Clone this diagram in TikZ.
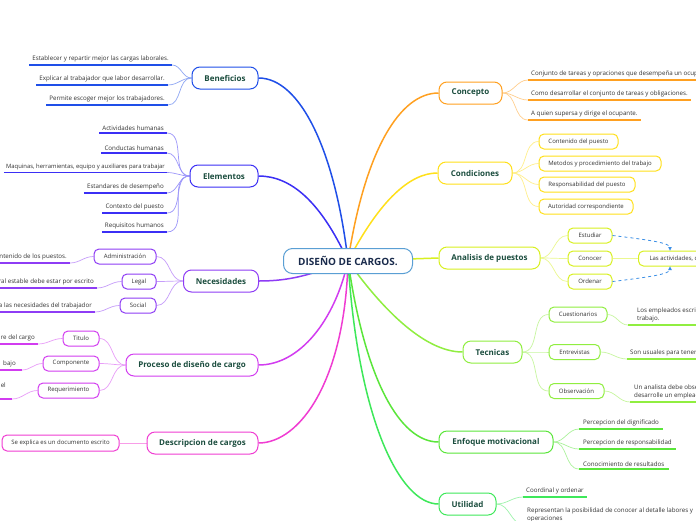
\documentclass[tikz,border=0pt]{standalone}
\usepackage{fontspec}
\setmainfont{Open Sans}
\usetikzlibrary{backgrounds,arrows.meta}
\definecolor{cRoot}{HTML}{5A9FD4}
\definecolor{cRootT}{HTML}{1A2B4C}
\definecolor{cTopT}{HTML}{1B4D3E}
\definecolor{cTxt}{HTML}{333333}
\definecolor{cBen}{HTML}{1F4FE8}
\definecolor{cEle}{HTML}{3B2FF5}
\definecolor{cNec}{HTML}{8E3CF5}
\definecolor{cPro}{HTML}{D23CF0}
\definecolor{cDes}{HTML}{F03CD2}
\definecolor{cCon}{HTML}{FFA020}
\definecolor{cCnd}{HTML}{FFE01A}
\definecolor{cAna}{HTML}{D8F020}
\definecolor{cTec}{HTML}{90EE40}
\definecolor{cEnf}{HTML}{5AE63A}
\definecolor{cUti}{HTML}{3EE85A}
\definecolor{cDash}{HTML}{3A8EE6}
\begin{document}
\begin{tikzpicture}[x=1pt,y=-1pt,
  rootbox/.style={draw=cRoot, line width=1pt, fill=white, rounded corners=9pt, minimum width=129pt, minimum height=25pt, font=\fontsize{10}{12}\selectfont\bfseries, text=cRootT, inner sep=0pt},
  topic/.style={draw=#1, line width=1pt, fill=white, rounded corners=8pt, minimum height=22pt, font=\fontsize{8}{9.5}\selectfont\bfseries, text=cTopT, inner sep=0pt},
  subbox/.style={draw=#1, line width=1pt, fill=white, rounded corners=5pt, minimum height=15pt, font=\fontsize{6}{7.5}\selectfont, text=cTxt, inner sep=0pt},
  leaf/.style={font=\fontsize{6.2}{8}\selectfont, text=cTxt, inner xsep=3pt, inner ysep=2.5pt},
  uline/.style={draw=#1, line width=1.3pt},
  conn/.style={draw=#1!50!white, line width=0.7pt},
  mainconn/.style={draw=#1, line width=1.5pt},
  dasharrow/.style={draw=cDash, line width=0.8pt, dashed, -{Latex[length=4pt,width=4pt]}}
]
\useasboundingbox (0,0) rectangle (696,520);

% root
\node[rootbox] (root) at (348,261) {DISEÑO DE CARGOS.};

% left topics
\node[topic=cBen, minimum width=66pt] (ben) at (225,78) {Beneficios};
\node[topic=cEle, minimum width=68pt] (ele) at (224,176) {Elementos};
\node[topic=cNec, minimum width=75pt] (nec) at (221,281) {Necesidades};
\node[topic=cPro, minimum width=132pt] (pro) at (192,365) {Proceso de diseño de cargo};
\node[topic=cDes, minimum width=111pt] (des) at (202.5,443) {Descripcion de cargos};

% right topics
\node[topic=cCon, minimum width=63pt] (con) at (470.5,93) {Concepto};
\node[topic=cCnd, minimum width=74pt] (cnd) at (475,173) {Condiciones};
\node[topic=cAna, minimum width=101pt] (ana) at (489.5,258) {Analisis de puestos};
\node[topic=cTec, minimum width=59pt] (tec) at (492.5,352) {Tecnicas};
\node[topic=cEnf, minimum width=114pt] (enf) at (496,442) {Enfoque motivacional};
\node[topic=cUti, minimum width=57pt] (uti) at (467.5,504) {Utilidad};

% Beneficios leaves
\node[leaf, anchor=south east] (b1) at (172,65) {Establecer y repartir mejor las cargas laborales.};
\node[leaf, anchor=south east] (b2) at (168,85) {Explicar al trabajador que labor desarrollar.};
\node[leaf, anchor=south east] (b3) at (168,105) {Permite escoger mejor los trabajadores.};

% Elementos leaves
\node[leaf, anchor=south east] (e1) at (167,133) {Actividades humanas};
\node[leaf, anchor=south east] (e2) at (167,153) {Conductas humanas};
\node[leaf, anchor=south east, font=\fontsize{5.9}{8}\selectfont, inner xsep=2pt] (e3) at (167,172.5) {Maquinas, herramientas, equipo y auxiliares para trabajar};
\node[leaf, anchor=south east] (e4) at (167,193) {Estandares de desempeño};
\node[leaf, anchor=south east] (e5) at (167,213) {Contexto del puesto};
\node[leaf, anchor=south east] (e6) at (167,232) {Requisitos humanos};

% Necesidades
\node[subbox=cNec, minimum width=62pt] (n1) at (125,256.5) {Administración};
\node[subbox=cNec, minimum width=34pt] (n2) at (139,281.5) {Legal};
\node[subbox=cNec, minimum width=36pt] (n3) at (138,305.5) {Social};
\node[leaf, anchor=south east] (n1l) at (70,263) {ontenido de los puestos.};
\node[leaf, anchor=south east] (n2l) at (97,288) {ral estable debe estar por escrito};
\node[leaf, anchor=south east] (n3l) at (95,312) {a las necesidades del trabajador};

% Proceso
\node[subbox=cPro, minimum width=36pt] (p1) at (81,338.5) {Titulo};
\node[subbox=cPro, minimum width=56pt] (p2) at (71,363.5) {Componente};
\node[subbox=cPro, minimum width=61pt] (p3) at (68.5,390.5) {Requerimiento};
\node[leaf, anchor=south east] (p1l) at (38,344) {re del cargo};
\node[leaf, anchor=south east, inner xsep=6pt] (p2l) at (22,370) {bajo};
\node[leaf, anchor=south east, inner xsep=6pt, text depth=9pt] (p3l) at (12,399) {el};

% Descripcion
\node[subbox=cDes, minimum width=117pt, minimum height=16pt] (d1) at (60.5,443) {Se explica es un documento escrito};

% Concepto leaves
\node[leaf, anchor=south west] (k1) at (528,80) {Conjunto de tareas y opraciones que desempeña un ocupa};
\node[leaf, anchor=south west] (k2) at (528,100) {Como desarrollar el conjunto de tareas y obligaciones.};
\node[leaf, anchor=south west] (k3) at (528,120) {A quien supersa y dirige el ocupante.};

% Condiciones
\node[subbox=cCnd, minimum width=79pt] (c1) at (578.5,141.5) {Contenido del puesto};
\node[subbox=cCnd, minimum width=122pt] (c2) at (600,163.5) {Metodos y procedimiento del trabajo};
\node[subbox=cCnd, minimum width=96pt] (c3) at (587,184.5) {Responsabilidad del puesto};
\node[subbox=cCnd, minimum width=94pt] (c4) at (586,206.5) {Autoridad correspondiente};

% Analisis
\node[subbox=cAna, minimum width=44pt] (a1) at (590,235.5) {Estudiar};
\node[subbox=cAna, minimum width=44pt] (a2) at (590,258.5) {Conocer};
\node[subbox=cAna, minimum width=44pt] (a3) at (590,281.5) {Ordenar};
\node[subbox=cAna, anchor=west, inner xsep=11pt] (a4) at (638,258.5) {Las actividades, d};
\coordinate (a4t) at (670,251);
\coordinate (a4b) at (670,266);

% Tecnicas
\node[subbox=cTec, minimum width=58pt] (t1) at (578,314.5) {Cuestionarios};
\node[subbox=cTec, minimum width=51pt] (t2) at (574.5,352) {Entrevistas};
\node[subbox=cTec, minimum width=55pt] (t3) at (576.5,391) {Observación};
\node[leaf, anchor=south west, align=left, inner xsep=9pt] (t1l) at (628,325) {Los empleados escrib\\trabajo.};
\node[leaf, anchor=south west] (t2l) at (627,359) {Son usuales para tener};
\node[leaf, anchor=south west, align=left, inner xsep=4pt] (t3l) at (630,402) {Un analista debe obse\\desarrolle un emplead};

% Enfoque
\node[leaf, anchor=south west, inner xsep=4pt] (f1) at (579,429) {Percepcion del dignificado};
\node[leaf, anchor=south west, inner xsep=4pt] (f2) at (579,449) {Percepcion de responsabilidad};
\node[leaf, anchor=south west, inner xsep=4pt] (f3) at (579,469) {Conocimiento de resultados};

% Utilidad
\node[leaf, anchor=south west] (u1) at (523,497) {Coordinal y ordenar};
\node[leaf, anchor=north west, align=left] (u2) at (524,505) {Representan la posibilidad de conocer al detalle labores y\\operaciones};

% underlines
\foreach \n in {b1,b2,b3} \draw[uline=cBen] (\n.south west) -- (\n.south east);
\foreach \n in {e1,e2,e3,e4,e5,e6} \draw[uline=cEle] (\n.south west) -- (\n.south east);
\foreach \n in {n1l,n2l,n3l} \draw[uline=cNec] (\n.south west) -- (\n.south east);
\foreach \n in {p1l,p2l,p3l} \draw[uline=cPro] (\n.south west) -- (\n.south east);
\foreach \n in {k1,k2,k3} \draw[uline=cCon] (\n.south west) -- (\n.south east);
\foreach \n in {t1l,t2l,t3l} \draw[uline=cTec] (\n.south west) -- (\n.south east);
\foreach \n in {f1,f2,f3} \draw[uline=cEnf] (\n.south west) -- (\n.south east);
\foreach \n in {u1,u2} \draw[uline=cUti] (\n.south west) -- (\n.south east);

% dashed relations
\draw[dasharrow] (a1.east) .. controls (650,240) and (670,243) .. (a4t);
\draw[dasharrow] (a3.east) .. controls (650,277) and (670,274) .. (a4b);

\begin{pgfonlayer}{background}
\fill[white] (0,0) rectangle (696,520);
% main branches
\draw[mainconn=cBen] (root.center) .. controls (335,150) and (300,78) .. (ben.east);
\draw[mainconn=cEle] (root.center) .. controls (320,200) and (290,176) .. (ele.east);
\draw[mainconn=cNec] (root.center) .. controls (310,275) and (290,281) .. (nec.east);
\draw[mainconn=cPro] (root.center) .. controls (335,320) and (300,365) .. (pro.east);
\draw[mainconn=cDes] (root.center) .. controls (345,380) and (300,443) .. (des.east);
\draw[mainconn=cCon] (root.center) .. controls (365,150) and (400,93) .. (con.west);
\draw[mainconn=cCnd] (root.center) .. controls (380,200) and (410,173) .. (cnd.west);
\draw[mainconn=cAna] (root.center) -- (ana.west);
\draw[mainconn=cTec] (root.center) .. controls (390,320) and (430,352) .. (tec.west);
\draw[mainconn=cEnf] (root.center) .. controls (365,380) and (400,442) .. (enf.west);
\draw[mainconn=cUti] (root.center) .. controls (358,420) and (400,504) .. (uti.west);
% sub connectors left
\foreach \n in {b1,b2,b3} \draw[conn=cBen] (ben.west) to[out=180,in=0] (\n.south east);
\foreach \n in {e1,e2,e3,e4,e5,e6} \draw[conn=cEle] (ele.west) to[out=180,in=0] (\n.south east);
\foreach \n in {n1,n2,n3} \draw[conn=cNec] (nec.west) to[out=180,in=0] (\n.east);
\draw[conn=cNec] (n1.west) to[out=180,in=0] (n1l.south east);
\draw[conn=cNec] (n2.west) to[out=180,in=0] (n2l.south east);
\draw[conn=cNec] (n3.west) to[out=180,in=0] (n3l.south east);
\foreach \n in {p1,p2,p3} \draw[conn=cPro] (pro.west) to[out=180,in=0] (\n.east);
\draw[conn=cPro] (p1.west) to[out=180,in=0] (p1l.south east);
\draw[conn=cPro] (p2.west) to[out=180,in=0] (p2l.south east);
\draw[conn=cPro] (p3.west) to[out=180,in=0] (p3l.south east);
\draw[conn=cDes] (des.west) -- (d1.east);
% sub connectors right
\foreach \n in {k1,k2,k3} \draw[conn=cCon] (con.east) to[out=0,in=180] (\n.south west);
\foreach \n in {c1,c2,c3,c4} \draw[conn=cCnd] (cnd.east) to[out=0,in=180] (\n.west);
\foreach \n in {a1,a2,a3} \draw[conn=cAna] (ana.east) to[out=0,in=180] (\n.west);
\draw[conn=cAna] (a2.east) -- (a4.west);
\foreach \n in {t1,t2,t3} \draw[conn=cTec] (tec.east) to[out=0,in=180] (\n.west);
\draw[conn=cTec] (t1.east) to[out=0,in=180] (t1l.south west);
\draw[conn=cTec] (t2.east) to[out=0,in=180] (t2l.south west);
\draw[conn=cTec] (t3.east) to[out=0,in=180] (t3l.south west);
\foreach \n in {f1,f2,f3} \draw[conn=cEnf] (enf.east) to[out=0,in=180] (\n.south west);
\foreach \n in {u1,u2} \draw[conn=cUti] (uti.east) to[out=0,in=180] (\n.south west);
\end{pgfonlayer}
\end{tikzpicture}
\end{document}
